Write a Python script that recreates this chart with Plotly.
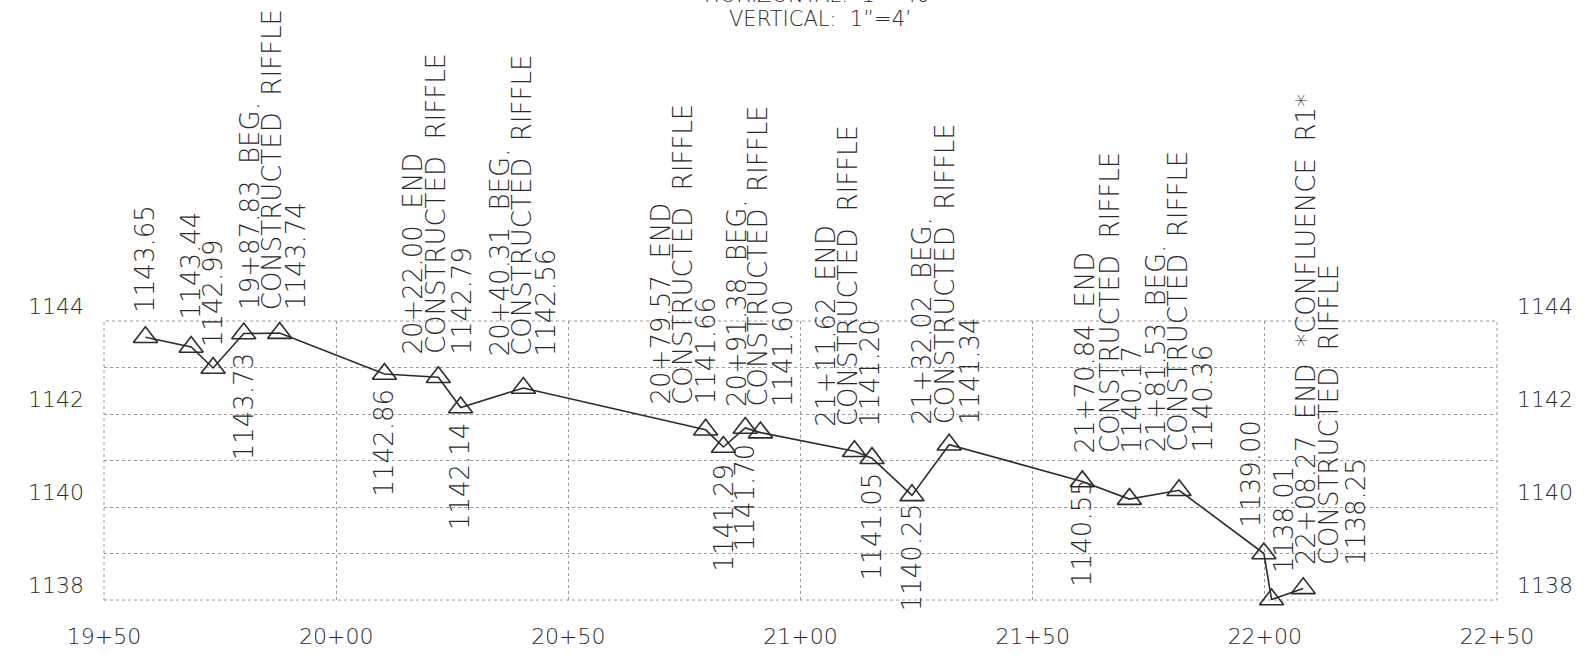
import plotly.graph_objects as go

# ---------------- data ----------------
stations = [1958.93, 1968.77, 1973.50, 1980.10, 1987.83, 2010.40, 2022.00, 2026.80,
            2040.31, 2079.57, 2083.40, 2088.10, 2091.38, 2111.62, 2115.40, 2124.00,
            2132.02, 2160.70, 2170.84, 2181.53, 2199.80, 2201.45, 2208.27]
elevations = [1143.65, 1143.44, 1142.99, 1143.73, 1143.74, 1142.86, 1142.79, 1142.14,
              1142.56, 1141.66, 1141.29, 1141.70, 1141.60, 1141.20, 1141.05, 1140.25,
              1141.34, 1140.55, 1140.17, 1140.36, 1139.00, 1138.01, 1138.25]
notes = [None, None, None, None, "BEG.", None, "END", None,
         "BEG.", "END", None, None, "BEG.", "END", None, None,
         "BEG.", None, "END", "BEG.", None, None, "END\u00a0\u00a0*CONFLUENCE\u00a0\u00a0R1*"]
feature_text = "CONSTRUCTED\u00a0\u00a0RIFFLE"

x_tick_vals = [1950, 2000, 2050, 2100, 2150, 2200, 2250]
x_tick_text = ["19+50", "20+00", "20+50", "21+00", "21+50", "22+00", "22+50"]
y_tick_vals = [1138, 1139, 1140, 1141, 1142, 1143, 1144]
y_tick_text = ["1138", "", "1140", "", "1142", "", "1144"]
scale_lines = ["HORIZONTAL:\u00a0\u00a01\u201d=40\u2019", "VERTICAL:\u00a0\u00a01\u201d=4\u2019"]

# ---------------- label placement (pixels) ----------------
# side, gap between point and text end, x offsets of each text line
label_place = [
    ("above", 24, [0]), ("above", 27, [0]), ("above", 20, [0]), ("below", 18, [0]),
    ("above", 22, [-30, -8, 16]), ("below", 13, [0]), ("above", 22, [-25, -3, 24]),
    ("below", 14, [0]), ("above", 31, [-23, -1, 23]), ("above", 24, [-45, -22, 0]),
    ("below", 15, [1]), ("below", 14, [0]), ("above", 25, [-24, -2, 22]),
    ("above", 24, [-28, -7, 16]), ("below", 13, [0]), ("below", 7, [0]),
    ("above", 19, [-27, -4, 21]), ("below", -4, [0]), ("above", 45, [-44, -20, 3]),
    ("above", 37, [-23, -1, 24]), ("above", 25, [-13]), ("above", 25, [12]),
    ("above", 22, [3, 26, 53]),
]

INK = "#2b2b2b"
GRID = "#9a9a9a"
FONT = "DejaVu Sans"


def station_text(s):
    return f"{int(s // 100)}+{s - 100 * int(s // 100):05.2f}"


fig = go.Figure()
fig.add_trace(go.Scatter(
    x=stations, y=elevations, mode="lines+markers", cliponaxis=False,
    line=dict(color=INK, width=1.6),
    marker=dict(symbol="triangle-up-open", size=21, color=INK, line=dict(width=1.6, color=INK)),
    showlegend=False, hoverinfo="skip"))
fig.add_trace(go.Scatter(x=stations, y=elevations, yaxis="y2", mode="lines",
                         line=dict(width=0), opacity=0, showlegend=False, hoverinfo="skip"))

lbl_font = dict(family=FONT, size=26, color=INK, weight=200)
annotations = []
for i, (s, e) in enumerate(zip(stations, elevations)):
    side, gap, dxs = label_place[i]
    lines = [f"{e:.2f}"]
    if notes[i] is not None:
        lines = [f"{station_text(s)}\u00a0\u00a0{notes[i]}", feature_text, f"{e:.2f}"]
    for txt, dx in zip(lines, dxs):
        annotations.append(dict(
            x=s, y=e, xref="x", yref="y", text=txt, textangle=-90, showarrow=False,
            xanchor="center", yanchor="bottom" if side == "above" else "top",
            xshift=dx, yshift=gap if side == "above" else -gap,
            font=lbl_font, borderpad=0))

for k, txt in enumerate(scale_lines):
    annotations.append(dict(
        x=0.5145, y=2.168 - 0.086 * k, xref="paper", yref="paper", text=txt,
        showarrow=False, xanchor="center", yanchor="middle",
        font=dict(family=FONT, size=21, color=INK, weight=200)))

tick_font = dict(family=FONT, size=22, color=INK, weight=200)
fig.update_layout(
    width=1584, height=655, autosize=False,
    margin=dict(l=104, r=87, t=321, b=55, pad=0),
    paper_bgcolor="white", plot_bgcolor="white",
    annotations=annotations,
    shapes=[dict(type="rect", xref="paper", yref="paper", x0=0, x1=1, y0=0, y1=1,
                 line=dict(color=GRID, width=1, dash="dot"), layer="below")],
    xaxis=dict(range=[1950, 2250], tickvals=x_tick_vals, ticktext=x_tick_text,
               showgrid=True, gridcolor=GRID, griddash="dot", gridwidth=1,
               zeroline=False, showline=False, ticks="", tickfont=tick_font,
               ticklabelstandoff=21, automargin=False),
    yaxis=dict(range=[1138, 1144], tickvals=y_tick_vals, ticktext=y_tick_text,
               showgrid=True, gridcolor=GRID, griddash="dot", gridwidth=1,
               zeroline=False, showline=False, ticks="", tickfont=tick_font,
               ticklabelshift=-15, ticklabelstandoff=19, automargin=False),
    yaxis2=dict(range=[1138, 1144], tickvals=y_tick_vals, ticktext=y_tick_text,
                overlaying="y", side="right", showgrid=False, zeroline=False,
                showline=False, ticks="", tickfont=tick_font,
                ticklabelshift=-15, ticklabelstandoff=19, automargin=False),
)

fig.write_html("out.html", config={"displayModeBar": False},
               post_script="document.body.style.margin='0';document.body.style.overflow='hidden';")
